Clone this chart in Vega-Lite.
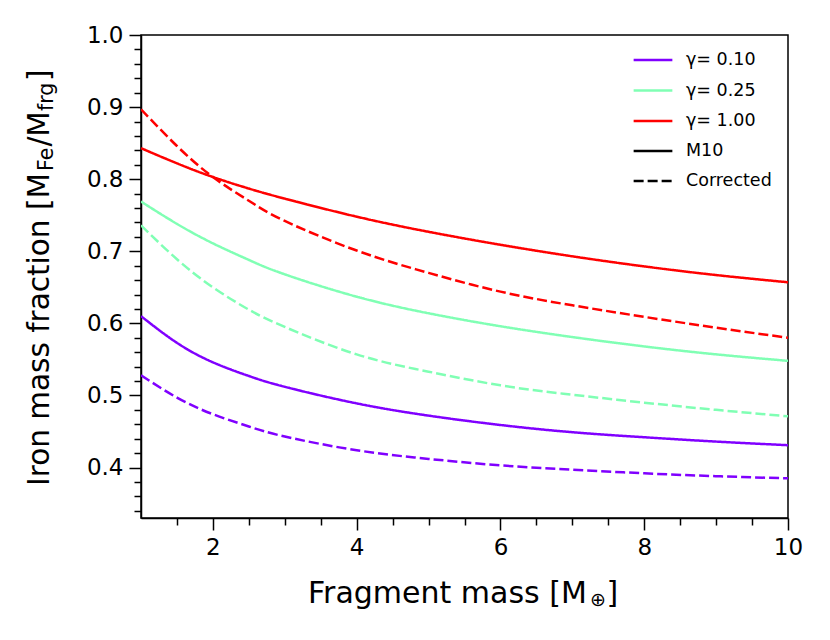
{
  "$schema": "https://vega.github.io/schema/vega-lite/v6.json",
  "width": 647,
  "height": 483,
  "autosize": {"type": "none"},
  "padding": {"left": 141, "top": 35, "right": 42, "bottom": 122},
  "background": "white",
  "config": {
    "font": "DejaVu Sans",
    "view": {"stroke": "black", "strokeWidth": 1.5},
    "axis": {
      "grid": false,
      "title": null,
      "domainColor": "black",
      "domainWidth": 1.5,
      "tickColor": "black",
      "tickWidth": 1.5,
      "labelColor": "black",
      "labelFont": "DejaVu Sans",
      "labelFontSize": 23,
      "labelOverlap": false,
      "labelBound": false,
      "labelFlush": false
    },
    "legend": {
      "labelFont": "DejaVu Sans",
      "labelFontSize": 17.5,
      "labelColor": "black",
      "symbolType": "stroke",
      "symbolStrokeWidth": 2.5,
      "symbolSize": 1500,
      "labelOffset": 12,
      "padding": 0,
      "orient": "none"
    }
  },
  "layer": [
    {
      "data": {
        "values": [
          {"mass": 1, "frac": 0.61, "gamma": "γ= 0.10", "method": "M10"},
          {"mass": 1.5, "frac": 0.573, "gamma": "γ= 0.10", "method": "M10"},
          {"mass": 2, "frac": 0.546, "gamma": "γ= 0.10", "method": "M10"},
          {"mass": 2.5, "frac": 0.527, "gamma": "γ= 0.10", "method": "M10"},
          {"mass": 3, "frac": 0.512, "gamma": "γ= 0.10", "method": "M10"},
          {"mass": 4, "frac": 0.489, "gamma": "γ= 0.10", "method": "M10"},
          {"mass": 5, "frac": 0.472, "gamma": "γ= 0.10", "method": "M10"},
          {"mass": 6, "frac": 0.459, "gamma": "γ= 0.10", "method": "M10"},
          {"mass": 7, "frac": 0.449, "gamma": "γ= 0.10", "method": "M10"},
          {"mass": 8, "frac": 0.442, "gamma": "γ= 0.10", "method": "M10"},
          {"mass": 9, "frac": 0.436, "gamma": "γ= 0.10", "method": "M10"},
          {"mass": 10, "frac": 0.431, "gamma": "γ= 0.10", "method": "M10"},
          {"mass": 1, "frac": 0.769, "gamma": "γ= 0.25", "method": "M10"},
          {"mass": 1.5, "frac": 0.738, "gamma": "γ= 0.25", "method": "M10"},
          {"mass": 2, "frac": 0.711, "gamma": "γ= 0.25", "method": "M10"},
          {"mass": 2.5, "frac": 0.688, "gamma": "γ= 0.25", "method": "M10"},
          {"mass": 3, "frac": 0.668, "gamma": "γ= 0.25", "method": "M10"},
          {"mass": 4, "frac": 0.637, "gamma": "γ= 0.25", "method": "M10"},
          {"mass": 5, "frac": 0.614, "gamma": "γ= 0.25", "method": "M10"},
          {"mass": 6, "frac": 0.596, "gamma": "γ= 0.25", "method": "M10"},
          {"mass": 7, "frac": 0.581, "gamma": "γ= 0.25", "method": "M10"},
          {"mass": 8, "frac": 0.568, "gamma": "γ= 0.25", "method": "M10"},
          {"mass": 9, "frac": 0.557, "gamma": "γ= 0.25", "method": "M10"},
          {"mass": 10, "frac": 0.548, "gamma": "γ= 0.25", "method": "M10"},
          {"mass": 1, "frac": 0.843, "gamma": "γ= 1.00", "method": "M10"},
          {"mass": 1.5, "frac": 0.822, "gamma": "γ= 1.00", "method": "M10"},
          {"mass": 2, "frac": 0.803, "gamma": "γ= 1.00", "method": "M10"},
          {"mass": 2.5, "frac": 0.787, "gamma": "γ= 1.00", "method": "M10"},
          {"mass": 3, "frac": 0.773, "gamma": "γ= 1.00", "method": "M10"},
          {"mass": 4, "frac": 0.748, "gamma": "γ= 1.00", "method": "M10"},
          {"mass": 5, "frac": 0.727, "gamma": "γ= 1.00", "method": "M10"},
          {"mass": 6, "frac": 0.709, "gamma": "γ= 1.00", "method": "M10"},
          {"mass": 7, "frac": 0.693, "gamma": "γ= 1.00", "method": "M10"},
          {"mass": 8, "frac": 0.679, "gamma": "γ= 1.00", "method": "M10"},
          {"mass": 9, "frac": 0.667, "gamma": "γ= 1.00", "method": "M10"},
          {"mass": 10, "frac": 0.657, "gamma": "γ= 1.00", "method": "M10"},
          {"mass": 1, "frac": 0.528, "gamma": "γ= 0.10", "method": "Corrected"},
          {"mass": 1.5, "frac": 0.497, "gamma": "γ= 0.10", "method": "Corrected"},
          {"mass": 2, "frac": 0.474, "gamma": "γ= 0.10", "method": "Corrected"},
          {"mass": 2.5, "frac": 0.457, "gamma": "γ= 0.10", "method": "Corrected"},
          {"mass": 3, "frac": 0.443, "gamma": "γ= 0.10", "method": "Corrected"},
          {"mass": 4, "frac": 0.424, "gamma": "γ= 0.10", "method": "Corrected"},
          {"mass": 5, "frac": 0.412, "gamma": "γ= 0.10", "method": "Corrected"},
          {"mass": 6, "frac": 0.403, "gamma": "γ= 0.10", "method": "Corrected"},
          {"mass": 7, "frac": 0.397, "gamma": "γ= 0.10", "method": "Corrected"},
          {"mass": 8, "frac": 0.392, "gamma": "γ= 0.10", "method": "Corrected"},
          {"mass": 9, "frac": 0.388, "gamma": "γ= 0.10", "method": "Corrected"},
          {"mass": 10, "frac": 0.385, "gamma": "γ= 0.10", "method": "Corrected"},
          {"mass": 1, "frac": 0.736, "gamma": "γ= 0.25", "method": "Corrected"},
          {"mass": 1.5, "frac": 0.689, "gamma": "γ= 0.25", "method": "Corrected"},
          {"mass": 2, "frac": 0.65, "gamma": "γ= 0.25", "method": "Corrected"},
          {"mass": 2.5, "frac": 0.619, "gamma": "γ= 0.25", "method": "Corrected"},
          {"mass": 3, "frac": 0.595, "gamma": "γ= 0.25", "method": "Corrected"},
          {"mass": 4, "frac": 0.557, "gamma": "γ= 0.25", "method": "Corrected"},
          {"mass": 5, "frac": 0.533, "gamma": "γ= 0.25", "method": "Corrected"},
          {"mass": 6, "frac": 0.514, "gamma": "γ= 0.25", "method": "Corrected"},
          {"mass": 7, "frac": 0.501, "gamma": "γ= 0.25", "method": "Corrected"},
          {"mass": 8, "frac": 0.49, "gamma": "γ= 0.25", "method": "Corrected"},
          {"mass": 9, "frac": 0.48, "gamma": "γ= 0.25", "method": "Corrected"},
          {"mass": 10, "frac": 0.471, "gamma": "γ= 0.25", "method": "Corrected"},
          {"mass": 1, "frac": 0.897, "gamma": "γ= 1.00", "method": "Corrected"},
          {"mass": 1.5, "frac": 0.846, "gamma": "γ= 1.00", "method": "Corrected"},
          {"mass": 2, "frac": 0.803, "gamma": "γ= 1.00", "method": "Corrected"},
          {"mass": 2.5, "frac": 0.77, "gamma": "γ= 1.00", "method": "Corrected"},
          {"mass": 3, "frac": 0.742, "gamma": "γ= 1.00", "method": "Corrected"},
          {"mass": 4, "frac": 0.701, "gamma": "γ= 1.00", "method": "Corrected"},
          {"mass": 5, "frac": 0.67, "gamma": "γ= 1.00", "method": "Corrected"},
          {"mass": 6, "frac": 0.644, "gamma": "γ= 1.00", "method": "Corrected"},
          {"mass": 7, "frac": 0.625, "gamma": "γ= 1.00", "method": "Corrected"},
          {"mass": 8, "frac": 0.609, "gamma": "γ= 1.00", "method": "Corrected"},
          {"mass": 9, "frac": 0.594, "gamma": "γ= 1.00", "method": "Corrected"},
          {"mass": 10, "frac": 0.58, "gamma": "γ= 1.00", "method": "Corrected"}
        ]
      },
      "mark": {"type": "line", "strokeWidth": 2.5, "interpolate": "natural", "clip": true},
      "encoding": {
        "x": {
          "field": "mass",
          "type": "quantitative",
          "scale": {"domain": [1, 10], "nice": false, "zero": false},
          "axis": {
            "values": [1.5, 2, 2.5, 3, 3.5, 4, 4.5, 5, 5.5, 6, 6.5, 7, 7.5, 8, 8.5, 9, 9.5, 10],
            "labelExpr": "datum.value % 2 === 0 ? format(datum.value, 'd') : ''",
            "tickSize": {"condition": {"test": "datum.value % 2 === 0", "value": 12}, "value": 7},
            "labelPadding": 6
          }
        },
        "y": {
          "field": "frac",
          "type": "quantitative",
          "scale": {"domain": [0.33, 1.0], "nice": false, "zero": false},
          "axis": {
            "values": [0.34, 0.36, 0.38, 0.4, 0.42, 0.44, 0.46, 0.48, 0.5, 0.52, 0.54, 0.56, 0.58, 0.6, 0.62, 0.64, 0.66, 0.68, 0.7, 0.72, 0.74, 0.76, 0.78, 0.8, 0.82, 0.84, 0.86, 0.88, 0.9, 0.92, 0.94, 0.96, 0.98, 1.0],
            "labelExpr": "abs(datum.value * 10 - round(datum.value * 10)) < 0.001 ? format(datum.value, '.1f') : ''",
            "tickSize": {"condition": {"test": "abs(datum.value * 10 - round(datum.value * 10)) < 0.001", "value": 12}, "value": 7},
            "labelPadding": 6
          }
        },
        "color": {
          "field": "gamma",
          "type": "nominal",
          "scale": {"domain": ["γ= 0.10", "γ= 0.25", "γ= 1.00"], "range": ["#8000ff", "#80ffb4", "#ff0000"]},
          "legend": {"title": null, "legendX": 491, "legendY": 4, "rowPadding": 0.5}
        },
        "strokeDash": {
          "field": "method",
          "type": "nominal",
          "scale": {"domain": ["M10", "Corrected"], "range": [[1, 0], [10, 4]]},
          "legend": {"title": null, "legendX": 491, "legendY": 95, "rowPadding": -8, "symbolStrokeColor": "black"}
        }
      }
    },
    {
      "data": {"values": [{}]},
      "mark": {"type": "text", "text": "Iron mass fraction [M", "x": -92.5, "y": 451, "angle": 270, "align": "left", "baseline": "alphabetic", "fontSize": 29.5, "font": "DejaVu Sans", "color": "black"},
      "encoding": {}
    },
    {
      "data": {"values": [{}]},
      "mark": {"type": "text", "text": "Fe", "x": -88.5, "y": 136, "angle": 270, "align": "left", "baseline": "alphabetic", "fontSize": 20.5, "font": "DejaVu Sans", "color": "black"},
      "encoding": {}
    },
    {
      "data": {"values": [{}]},
      "mark": {"type": "text", "text": "/M", "x": -92.5, "y": 111.6, "angle": 270, "align": "left", "baseline": "alphabetic", "fontSize": 29.5, "font": "DejaVu Sans", "color": "black"},
      "encoding": {}
    },
    {
      "data": {"values": [{}]},
      "mark": {"type": "text", "text": "frg", "x": -88.5, "y": 76, "angle": 270, "align": "left", "baseline": "alphabetic", "fontSize": 20.5, "font": "DejaVu Sans", "color": "black"},
      "encoding": {}
    },
    {
      "data": {"values": [{}]},
      "mark": {"type": "text", "text": "]", "x": -92.5, "y": 46, "angle": 270, "align": "left", "baseline": "alphabetic", "fontSize": 29.5, "font": "DejaVu Sans", "color": "black"},
      "encoding": {}
    },
    {
      "data": {"values": [{}]},
      "mark": {"type": "text", "text": "Fragment mass [M", "x": 167, "y": 567.7, "align": "left", "baseline": "alphabetic", "fontSize": 30, "font": "DejaVu Sans", "color": "black"},
      "encoding": {}
    },
    {
      "data": {"values": [{}]},
      "mark": {"type": "text", "text": "⊕", "x": 449, "y": 571, "align": "left", "baseline": "alphabetic", "fontSize": 19, "font": "DejaVu Sans", "color": "black"},
      "encoding": {}
    },
    {
      "data": {"values": [{}]},
      "mark": {"type": "text", "text": "]", "x": 465.5, "y": 567.7, "align": "left", "baseline": "alphabetic", "fontSize": 30, "font": "DejaVu Sans", "color": "black"},
      "encoding": {}
    }
  ]
}
